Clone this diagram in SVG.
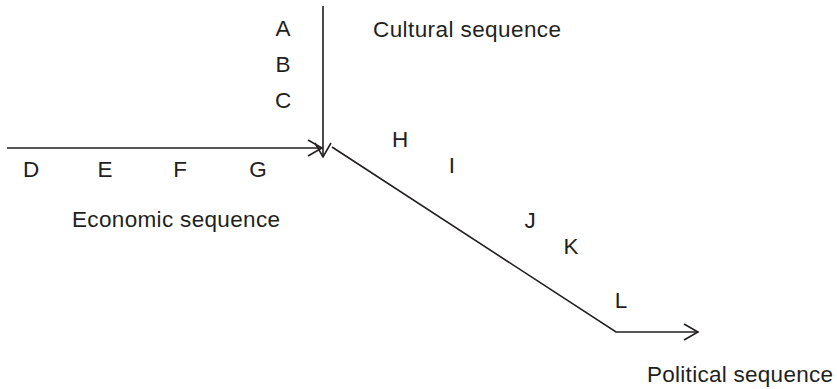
<svg xmlns="http://www.w3.org/2000/svg" width="837" height="389" viewBox="0 0 837 389">
<defs>
<style>
.ln{fill:none;stroke:#231f20;stroke-width:1.6;}
.t{font-family:"Liberation Sans",Arial,sans-serif;font-size:22.5px;fill:#231f20;}
.l{text-anchor:middle;}
</style>
<marker id="ah" markerUnits="userSpaceOnUse" markerWidth="20" markerHeight="20" refX="15" refY="10" orient="auto" viewBox="0 0 20 20">
<path d="M1,2 L15,10 L1,18" fill="none" stroke="#231f20" stroke-width="1.6"/>
</marker>
</defs>
<g id="connectors">
<line class="ln" x1="323" y1="6" x2="323" y2="157" marker-end="url(#ah)"/>
<line class="ln" x1="7" y1="148" x2="322" y2="148" marker-end="url(#ah)"/>
<polyline class="ln" points="332,147 616,332 698,332" marker-end="url(#ah)"/>
</g>
<g id="cultural">
<text class="t" x="373" y="37" textLength="188" lengthAdjust="spacing">Cultural sequence</text>
<text class="t l" x="283" y="36">A</text>
<text class="t l" x="283" y="72">B</text>
<text class="t l" x="283" y="108">C</text>
</g>
<g id="economic">
<text class="t" x="72" y="227" textLength="208" lengthAdjust="spacing">Economic sequence</text>
<text class="t l" x="31" y="177">D</text>
<text class="t l" x="105" y="177">E</text>
<text class="t l" x="180" y="177">F</text>
<text class="t l" x="258" y="177">G</text>
</g>
<g id="political">
<text class="t" x="647" y="382" textLength="186" lengthAdjust="spacing">Political sequence</text>
<text class="t l" x="400" y="147">H</text>
<text class="t l" x="452" y="173">I</text>
<text class="t l" x="530" y="228">J</text>
<text class="t l" x="571" y="254">K</text>
<text class="t l" x="621" y="308">L</text>
</g>
</svg>
